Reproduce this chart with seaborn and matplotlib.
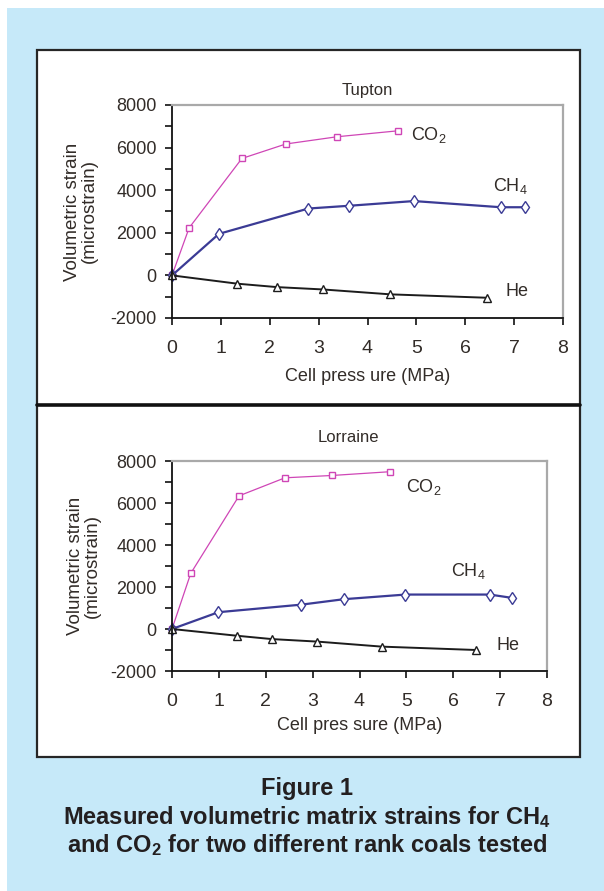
import numpy as np
import pandas as pd
import matplotlib.pyplot as plt
import seaborn as sns
from matplotlib.patches import Rectangle
from matplotlib.lines import Line2D
from matplotlib.ticker import MultipleLocator

# Tupton coal: cell pressure (MPa) and volumetric strain (microstrain)
tup_co2_p = [0, 0.35, 1.43, 2.33, 3.38, 4.63]
tup_co2_s = [0, 2230, 5490, 6170, 6510, 6790]
tup_ch4_p = [0, 0.96, 2.79, 3.63, 4.95, 6.73, 7.23]
tup_ch4_s = [0, 1950, 3140, 3270, 3490, 3200, 3200]
tup_he_p = [0, 1.34, 2.15, 3.09, 4.47, 6.45]
tup_he_s = [0, -390, -550, -660, -890, -1050]

# Lorraine coal
lor_co2_p = [0, 0.40, 1.43, 2.41, 3.41, 4.65]
lor_co2_s = [0, 2650, 6340, 7200, 7310, 7490]
lor_ch4_p = [0, 0.99, 2.76, 3.67, 4.98, 6.78, 7.26]
lor_ch4_s = [0, 800, 1160, 1420, 1640, 1640, 1480]
lor_he_p = [0, 1.38, 2.13, 3.10, 4.48, 6.49]
lor_he_s = [0, -320, -480, -600, -840, -1000]

gases = ['CO$_2$', 'CH$_4$', 'He']
tup_label_pos = [(5.25, 6610), (6.92, 4190), (7.06, -770)]
lor_label_pos = [(5.37, 6760), (6.32, 2780), (7.17, -800)]

sns.set_style("white")
plt.rcParams['font.family'] = ['Liberation Sans', 'DejaVu Sans']
plt.rcParams['mathtext.default'] = 'regular'
plt.rcParams['axes.unicode_minus'] = False

W, H = 604, 891
BG = '#c6e9f9'
TXT = '#322c28'
fig = plt.figure(figsize=(W / 100, H / 100), dpi=100, facecolor=BG)


def box(x0, y0, x1, y1):
    # pixel box (top-left origin) -> figure fraction rect
    return [x0 / W, 1 - y1 / H, (x1 - x0) / W, (y1 - y0) / H]


# white margins of the scan, the white panel and its divider (behind the axes)
for r in [box(0, 0, W, 8), box(0, 0, 7, H)]:
    fig.patches.append(Rectangle(r[:2], r[2], r[3], transform=fig.transFigure,
                                 facecolor='white', edgecolor='none', zorder=-3))
r = box(37, 50, 580, 757)
fig.patches.append(Rectangle(r[:2], r[2], r[3], transform=fig.transFigure,
                             facecolor='white', edgecolor='#262626', lw=1.6, zorder=-2))
fig.lines.append(Line2D([37 / W, 580 / W], [1 - 405 / H] * 2, transform=fig.transFigure,
                        color='#111111', lw=2.6, zorder=-1))

styles = [('#cf46b6', 's', 4.4, 0.9), ('#3b3b95', 'd', 6.5, 1.6), ('#1c1c1c', '^', 5.4, 1.4)]


def panel(rect, title, title_x, title_pad, series, label_pos, xlab, xlab_y):
    ax = fig.add_axes(rect)
    ax.patch.set_alpha(0)
    for (p, s), (color, marker, ms, lw) in zip(series, styles):
        sns.lineplot(x=p, y=s, ax=ax, color=color, lw=lw, marker=marker, markersize=ms,
                     markerfacecolor='white', markeredgecolor=color, markeredgewidth=1.0,
                     clip_on=False)
    for name, (x, y) in zip(gases, label_pos):
        ax.text(x, y, name, ha='center', va='center', fontsize=13, color=TXT)

    ax.set_xlim(0, 8)
    ax.set_ylim(-2000, 8000)
    ax.xaxis.set_major_locator(MultipleLocator(1))
    ax.yaxis.set_major_locator(MultipleLocator(2000))
    ax.yaxis.set_minor_locator(MultipleLocator(1000))
    ax.tick_params(axis='y', which='both', left=True, direction='out', length=5,
                   width=1.2, color='#111111', pad=6, labelsize=13, labelcolor=TXT)
    ax.tick_params(axis='x', which='major', bottom=True, direction='out', length=5,
                   width=1.2, color='#111111', pad=11, labelsize=14, labelcolor=TXT)
    for side in ['left', 'bottom']:
        ax.spines[side].set_color('#111111')
        ax.spines[side].set_linewidth(1.3)
    for side in ['top', 'right']:
        ax.spines[side].set_color('#a9a9a9')
        ax.spines[side].set_linewidth(1.6)

    ax.set_title(title, x=title_x, pad=title_pad, fontsize=12, color=TXT)
    ax.set_ylabel('Volumetric strain\n(microstrain)', fontsize=13.5, color=TXT, linespacing=1.0)
    ax.yaxis.set_label_coords(-0.19, 0.5)
    ax.set_xlabel(xlab, fontsize=13, color=TXT)
    ax.xaxis.set_label_coords(0.5, xlab_y)
    return ax


panel(box(172, 105, 563, 318), 'Tupton', 0.5, 7,
      [(tup_co2_p, tup_co2_s), (tup_ch4_p, tup_ch4_s), (tup_he_p, tup_he_s)],
      tup_label_pos, 'Cell press ure (MPa)', -0.235)
panel(box(172, 461, 547, 671), 'Lorraine', 0.47, 14,
      [(lor_co2_p, lor_co2_s), (lor_ch4_p, lor_ch4_s), (lor_he_p, lor_he_s)],
      lor_label_pos, 'Cell pres sure (MPa)', -0.22)

caption = ['Figure 1',
           'Measured volumetric matrix strains for CH$_4$',
           'and CO$_2$ for two different rank coals tested']
for line, y in zip(caption, [788, 817, 845]):
    fig.text(307 / W, 1 - y / H, line, ha='center', va='center', fontsize=17,
             fontweight='bold', color='#231f20')

fig.savefig('out.png', dpi=100, facecolor=BG)
